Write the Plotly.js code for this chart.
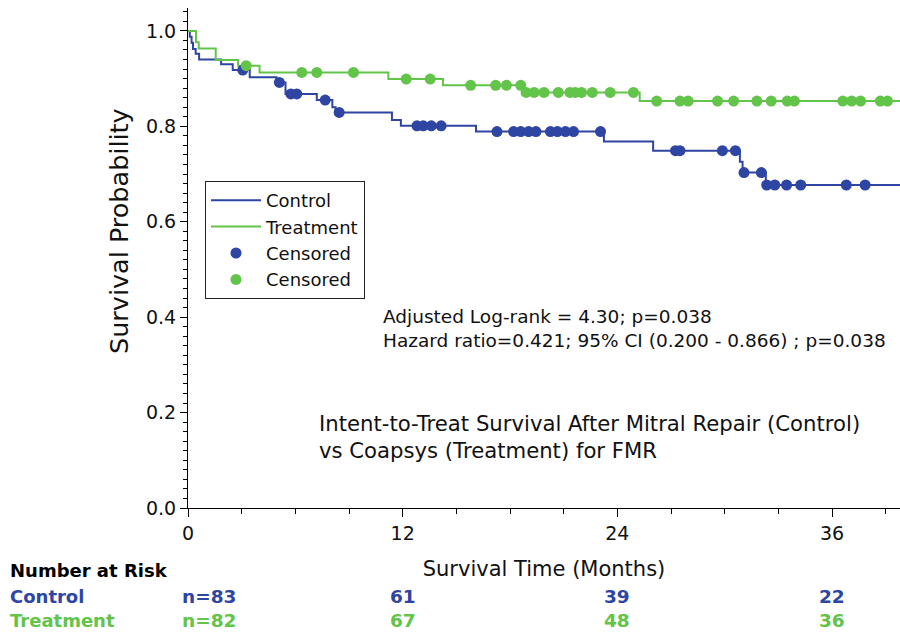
<!DOCTYPE html>
<html>
<head>
<meta charset="utf-8">
<script src="https://cdn.plot.ly/plotly-3.0.1.min.js"></script>
<style>
  html, body { margin: 0; padding: 0; background: #fff; }
  #chart { width: 900px; height: 635px; }
</style>
</head>
<body>
<div id="chart"></div>
<script>
// ---- Data ----
var controlTime = [0, 0.1, 0.2, 0.28, 0.43, 0.62, 1.85, 2.5, 3.45, 4.95, 5.45, 7.2, 8.07, 8.25, 11.4, 11.9, 16.1, 23.25, 26.0, 30.85, 31.0, 32.3, 39.8];
var controlSurv = [1.0, 0.988, 0.975, 0.962, 0.952, 0.940, 0.930, 0.918, 0.903, 0.892, 0.868, 0.855, 0.840, 0.829, 0.813, 0.801, 0.789, 0.768, 0.749, 0.726, 0.703, 0.677, 0.677];
var controlCensor = [3.06, 5.11, 5.75, 6.08, 7.67, 8.45, 12.8, 13.15, 13.6, 14.15, 17.27, 18.2, 18.6, 19.04, 19.45, 20.26, 20.65, 21.1, 21.55, 23.06, 27.25, 27.5, 29.87, 30.6, 31.08, 32.05, 32.35, 32.8, 33.46, 34.25, 36.8, 37.85];

var treatTime = [0, 0.45, 0.6, 1.55, 2.8, 4.0, 11.2, 14.25, 18.75, 25.25, 39.8];
var treatSurv = [1.0, 0.976, 0.963, 0.939, 0.927, 0.913, 0.899, 0.886, 0.871, 0.853, 0.853];
var treatCensor = [3.25, 6.36, 7.2, 9.25, 12.2, 13.54, 15.8, 17.2, 17.8, 18.6, 18.9, 19.35, 19.9, 20.7, 21.35, 21.65, 22.0, 22.6, 23.6, 24.9, 26.2, 27.5, 27.96, 29.6, 30.5, 31.8, 32.6, 33.5, 33.9, 36.6, 37.1, 37.6, 38.7, 39.1];

var riskTimes = [0, 12, 24, 36];
var riskControl = [83, 61, 39, 22];
var riskTreatment = [82, 67, 48, 36];

var statLines = ["Adjusted Log-rank = 4.30; p=0.038", "Hazard ratio=0.421; 95% CI (0.200 - 0.866) ; p=0.038"];
var captionLines = ["Intent-to-Treat Survival After Mitral Repair (Control)", "vs Coapsys (Treatment) for FMR"];

// ---- Styling ----
var BLUE = "#2E45A3";
var GREEN = "#62C449";
var FONT = "DejaVu Sans, Arial, sans-serif";

function stepValue(times, surv, t) {
  var v = surv[0];
  for (var i = 0; i < times.length; i++) {
    if (times[i] <= t) v = surv[i]; else break;
  }
  return v;
}

var traces = [
  { x: controlTime, y: controlSurv, type: "scatter", mode: "lines", line: { shape: "hv", color: BLUE, width: 2 }, name: "Control" },
  { x: treatTime, y: treatSurv, type: "scatter", mode: "lines", line: { shape: "hv", color: GREEN, width: 2 }, name: "Treatment" },
  { x: controlCensor, y: controlCensor.map(function (t) { return stepValue(controlTime, controlSurv, t); }), type: "scatter", mode: "markers", marker: { color: BLUE, size: 11 }, name: "Censored" },
  { x: treatCensor, y: treatCensor.map(function (t) { return stepValue(treatTime, treatSurv, t); }), type: "scatter", mode: "markers", marker: { color: GREEN, size: 11 }, name: "Censored" }
];

var annotations = [];
statLines.forEach(function (s, i) {
  annotations.push({ text: s, xref: "paper", yref: "paper", x: (381 - 188) / 712, y: (508 - (316 + i * 25)) / 500, xanchor: "left", yanchor: "middle", showarrow: false, font: { family: FONT, size: 18.5, color: "#111" } });
});
captionLines.forEach(function (s, i) {
  annotations.push({ text: s, xref: "paper", yref: "paper", x: (317 - 188) / 712, y: (508 - (423 + i * 27)) / 500, xanchor: "left", yanchor: "middle", showarrow: false, font: { family: FONT, size: 21.2, color: "#111" } });
});
// y-axis title
annotations.push({ text: "Survival Probability", xref: "paper", yref: "paper", x: (119 - 188) / 712, y: (508 - 231) / 500, xanchor: "center", yanchor: "middle", textangle: -90, showarrow: false, font: { family: FONT, size: 25.5, color: "#111" } });
// Number at risk table
var labelX = (8 - 188) / 712;
annotations.push({ text: "<b>Number at Risk</b>", xref: "paper", yref: "paper", x: labelX, y: (508 - 570) / 500, xanchor: "left", yanchor: "middle", showarrow: false, font: { family: FONT, size: 18, color: "#000" } });
annotations.push({ text: "<b>Control</b>", xref: "paper", yref: "paper", x: labelX, y: (508 - 596) / 500, xanchor: "left", yanchor: "middle", showarrow: false, font: { family: FONT, size: 18, color: BLUE } });
annotations.push({ text: "<b>Treatment</b>", xref: "paper", yref: "paper", x: labelX, y: (508 - 620) / 500, xanchor: "left", yanchor: "middle", showarrow: false, font: { family: FONT, size: 18, color: GREEN } });
riskTimes.forEach(function (t, i) {
  var pre = i === 0 ? "n=" : "";
  var shift = i === 0 ? 21 : 0;
  annotations.push({ text: "<b>" + pre + riskControl[i] + "</b>", xref: "x", yref: "paper", x: t, xshift: shift, y: (508 - 596) / 500, xanchor: "center", yanchor: "middle", showarrow: false, font: { family: FONT, size: 18.5, color: BLUE } });
  annotations.push({ text: "<b>" + pre + riskTreatment[i] + "</b>", xref: "x", yref: "paper", x: t, xshift: shift, y: (508 - 620) / 500, xanchor: "center", yanchor: "middle", showarrow: false, font: { family: FONT, size: 18.5, color: GREEN } });
});

var layout = {
  width: 900, height: 635,
  margin: { l: 188, r: 0, t: 8, b: 127 },
  paper_bgcolor: "#fff", plot_bgcolor: "#fff",
  font: { family: FONT, color: "#111", size: 19 },
  showlegend: true,
  legend: {
    x: (205 - 188) / 712, y: (508 - 181) / 500, xanchor: "left", yanchor: "top",
    bordercolor: "#222", borderwidth: 1, bgcolor: "#fff",
    font: { family: FONT, size: 18, color: "#111" },
    itemwidth: 50, tracegroupgap: 0
  },
  xaxis: {
    range: [0, 39.8], tickmode: "array", tickvals: riskTimes, ticktext: riskTimes.map(String),
    ticks: "outside", ticklen: 8, tickwidth: 1, tickcolor: "#000",
    minor: { dtick: 3, tick0: 0, ticks: "outside", ticklen: 5, tickwidth: 1, tickcolor: "#000" },
    showline: true, linecolor: "#000", linewidth: 1, showgrid: false, zeroline: false,
    tickfont: { family: FONT, size: 19, color: "#111" },
    title: { text: "Survival Time (Months)", font: { family: FONT, size: 21, color: "#111" }, standoff: 18 }
  },
  yaxis: {
    range: [0, 1.048], tickmode: "linear", tick0: 0, dtick: 0.2, tickformat: ".1f",
    ticks: "outside", ticklen: 7, tickwidth: 1, tickcolor: "#000",
    minor: { dtick: 0.02, tick0: 0, ticks: "outside", ticklen: 4, tickwidth: 1, tickcolor: "#000" },
    showline: true, linecolor: "#000", linewidth: 1, showgrid: false, zeroline: false,
    tickfont: { family: FONT, size: 19, color: "#111" }
  },
  annotations: annotations
};

Plotly.newPlot("chart", traces, layout, { displayModeBar: false, staticPlot: true });
</script>
</body>
</html>
